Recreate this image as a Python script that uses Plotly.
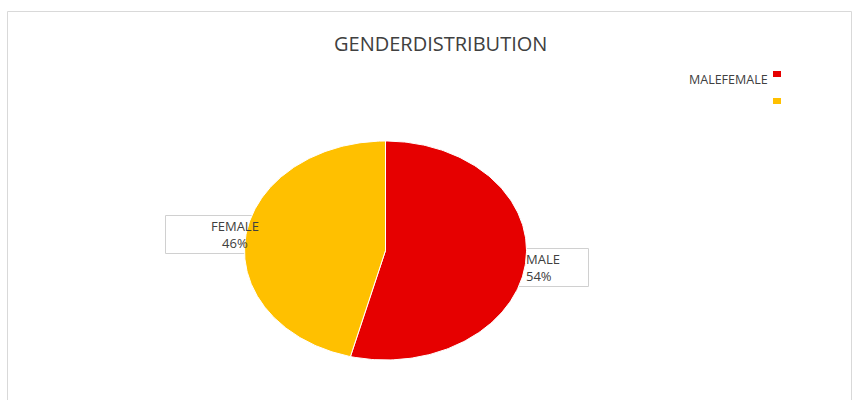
import numpy as np
import plotly.graph_objects as go

title = "GENDERDISTRIBUTION"
categories = ["MALE", "FEMALE"]
values = [54, 46]
colors = ["#E60000", "#FFC000"]

fig = go.Figure()

# elliptical pie built from the values (clockwise from 12 o'clock)
total = sum(values)
start = 0.0
for cat, val, col in zip(categories, values, colors):
    frac = val / total
    t = np.linspace(start, start + frac, 200) * 2 * np.pi
    xs = np.concatenate([[0], np.sin(t), [0]])
    ys = np.concatenate([[0], np.cos(t), [0]])
    fig.add_trace(go.Scatter(
        x=xs, y=ys, mode="lines", fill="toself", fillcolor=col,
        line=dict(color="white", width=1), name=cat, hoverinfo="name",
        showlegend=False))
    start += frac

W, H = 859, 400
def px(x):
    return x / W
def py(y):
    return 1 - y / H

font_main = "Open Sans"
shapes = [
    # chart frame
    dict(type="rect", xref="paper", yref="paper", x0=px(7.5), x1=px(851.5), y0=py(405), y1=py(11.5),
         line=dict(color="#D9D9D9", width=1), layer="below"),
    # label boxes (behind the pie)
    dict(type="rect", xref="paper", yref="paper", x0=px(165.5), x1=px(258), y0=py(253.5), y1=py(215.5),
         line=dict(color="#D0D0D0", width=1), fillcolor="white", layer="below"),
    dict(type="rect", xref="paper", yref="paper", x0=px(515), x1=px(588.5), y0=py(286.5), y1=py(248.5),
         line=dict(color="#D0D0D0", width=1), fillcolor="white", layer="below"),
    # legend keys
    dict(type="rect", xref="paper", yref="paper", x0=px(773), x1=px(781), y0=py(77), y1=py(71),
         line=dict(width=0), fillcolor=colors[0]),
    dict(type="rect", xref="paper", yref="paper", x0=px(773), x1=px(781), y0=py(104), y1=py(98),
         line=dict(width=0), fillcolor=colors[1]),
]

annotations = [
    dict(text=title, x=px(440), y=py(43), xref="paper", yref="paper", showarrow=False,
         font=dict(family=font_main, size=20, color="#404040"), xanchor="center", yanchor="middle"),
    dict(text="".join(categories), x=px(770), y=py(80), xref="paper", yref="paper", showarrow=False,
         font=dict(family=font_main, size=12.5, color="#404040"), xanchor="right", yanchor="middle"),
    dict(text=f"{categories[1]}<br>{values[1]}%", x=px(261), y=py(234), xref="paper", yref="paper",
         showarrow=False, align="center", xanchor="right", yanchor="middle",
         font=dict(family=font_main, size=13, color="#404040")),
    dict(text=f"{categories[0]}<br>{values[0]}%", x=px(524), y=py(267), xref="paper", yref="paper",
         showarrow=False, align="left", xanchor="left", yanchor="middle",
         font=dict(family=font_main, size=13, color="#404040")),
]

cx, cy, rx, ry = 385.5, 250.5, 141.0, 109.5
fig.update_layout(
    width=W, height=H, margin=dict(l=0, r=0, t=0, b=0),
    paper_bgcolor="white", plot_bgcolor="rgba(0,0,0,0)",
    xaxis=dict(range=[-cx / rx, (W - cx) / rx], visible=False, fixedrange=True),
    yaxis=dict(range=[-(H - cy) / ry, cy / ry], visible=False, fixedrange=True),
    shapes=shapes, annotations=annotations, showlegend=False,
)

fig.write_html("out.html")
